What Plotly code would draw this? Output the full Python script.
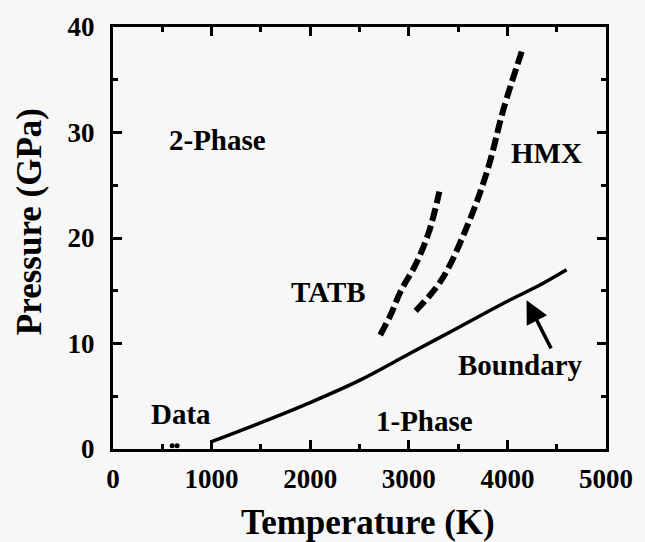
import plotly.graph_objects as go

# Data
boundary_T = [1000, 1500, 2000, 2500, 3000, 3500, 4000, 4300, 4600]
boundary_P = [0.7, 2.5, 4.4, 6.5, 9.0, 11.5, 14.0, 15.4, 17.0]

hmx_T = [3070, 3330, 3600, 3800, 3960, 4150]
hmx_P = [13.1, 16.0, 21.3, 26.5, 32.2, 37.8]

tatb_T = [2710, 2810, 2920, 3070, 3205, 3310]
tatb_P = [10.8, 12.6, 15.0, 17.5, 20.6, 24.4]

data_T = [600, 650]
data_P = [0.3, 0.3]

x_ticks = [0, 1000, 2000, 3000, 4000, 5000]
y_ticks = [0, 10, 20, 30, 40]

labels = [
    ("2-Phase", 1058, 29.3),
    ("HMX", 4400, 28.1),
    ("TATB", 2186, 14.9),
    ("Boundary", 4135, 8.0),
    ("1-Phase", 3155, 2.7),
    ("Data", 692, 3.3),
]

FONT = "Liberation Serif"
BG = "#f7f7f7"

fig = go.Figure()
fig.add_trace(go.Scatter(x=boundary_T, y=boundary_P, mode="lines",
                         line=dict(color="black", width=3.5, shape="spline"),
                         hoverinfo="skip"))
fig.add_trace(go.Scatter(x=hmx_T, y=hmx_P, mode="lines",
                         line=dict(color="black", width=6, dash="13px,5px", shape="spline"),
                         hoverinfo="skip"))
fig.add_trace(go.Scatter(x=tatb_T, y=tatb_P, mode="lines",
                         line=dict(color="black", width=6, dash="13px,5px", shape="spline"),
                         hoverinfo="skip"))
fig.add_trace(go.Scatter(x=data_T, y=data_P, mode="markers",
                         marker=dict(color="black", size=5),
                         hoverinfo="skip"))

for text, tx, ty in labels:
    fig.add_annotation(x=tx, y=ty, text=text, showarrow=False,
                       font=dict(family=FONT, size=29, color="black", weight="bold"),
                       xanchor="center", yanchor="middle")

# Arrow pointing to boundary
fig.add_annotation(x=4194, y=14.1, ax=4451, ay=9.4, axref="x", ayref="y",
                   text="", showarrow=True, arrowhead=2, arrowsize=1.3,
                   arrowwidth=3.5, arrowcolor="black")

# Axis titles
fig.add_annotation(xref="paper", yref="paper", x=0.517, y=-0.174,
                   text="Temperature (K)", showarrow=False,
                   font=dict(family=FONT, size=35, color="black", weight="bold"),
                   xanchor="center", yanchor="middle")
fig.add_annotation(xref="paper", yref="paper", x=-0.168, y=0.538,
                   text="Pressure (GPa)", showarrow=False, textangle=-90,
                   font=dict(family=FONT, size=35, color="black", weight="bold"),
                   xanchor="center", yanchor="middle")

axis_common = dict(showgrid=False, zeroline=False, showline=True, linecolor="black",
                   linewidth=3, mirror="allticks", ticks="inside", ticklen=9,
                   tickwidth=3, tickcolor="black",
                   tickfont=dict(family=FONT, size=27, color="black", weight="bold"))

fig.update_xaxes(range=[0, 5000], tickvals=x_ticks, ticktext=[str(v) for v in x_ticks],
                 minor=dict(dtick=500, ticks="inside", ticklen=5, tickwidth=2.5,
                            tickcolor="black", showgrid=False),
                 ticklabelstandoff=4, **axis_common)
fig.update_yaxes(range=[0, 40], tickvals=y_ticks, ticktext=[str(v) for v in y_ticks],
                 minor=dict(dtick=5, ticks="inside", ticklen=5, tickwidth=2.5,
                            tickcolor="black", showgrid=False),
                 ticklabelstandoff=10, **axis_common)

fig.update_layout(width=645, height=542, showlegend=False,
                  margin=dict(l=113, r=27, t=17, b=93),
                  paper_bgcolor=BG, plot_bgcolor=BG)

fig.write_html("out.html")
